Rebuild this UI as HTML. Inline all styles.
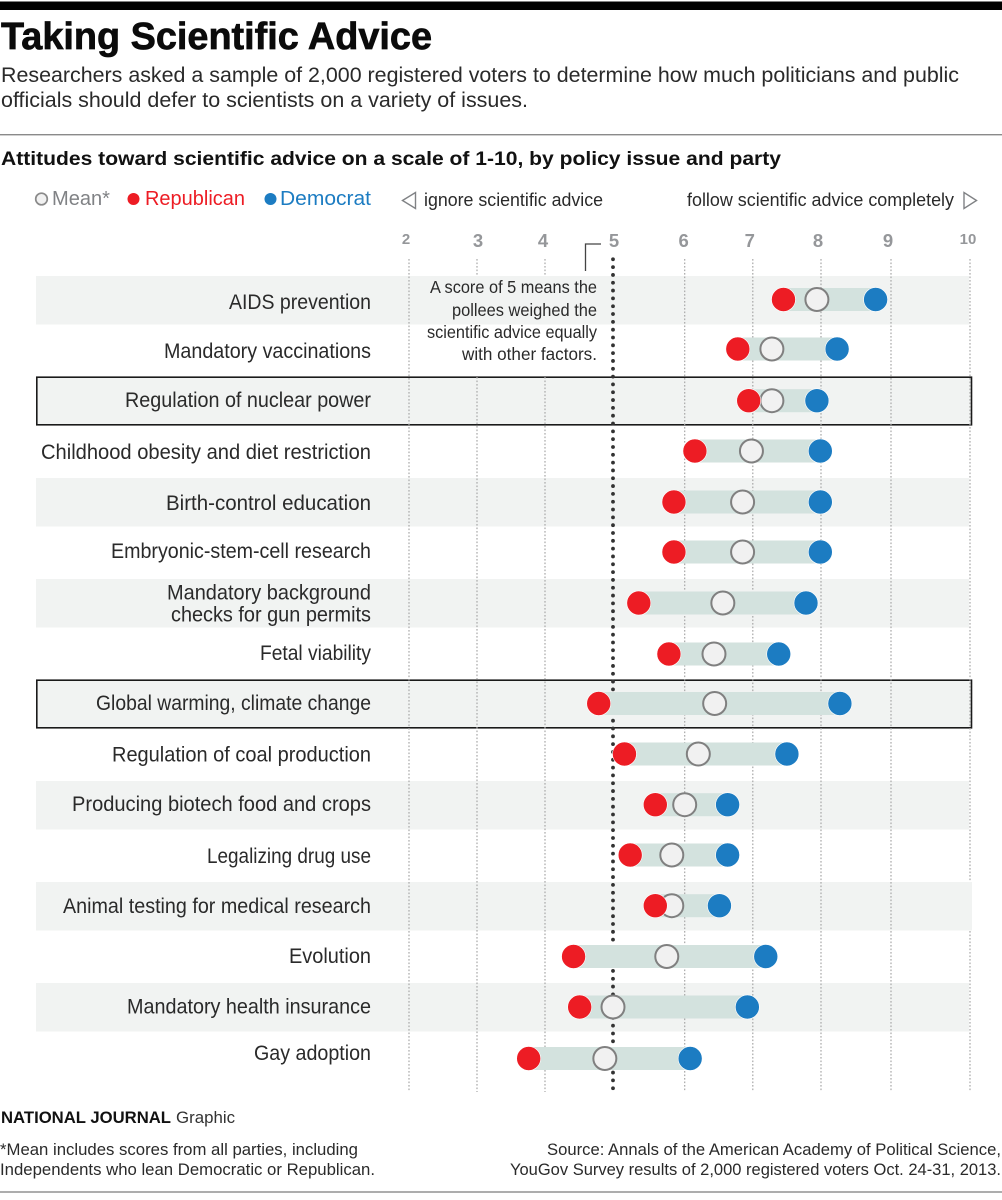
<!DOCTYPE html>
<html lang="en">
<head>
<meta charset="utf-8">
<title>Taking Scientific Advice</title>
<style>
html,body{margin:0;padding:0;background:#fff}
svg{display:block}
text{font-family:"Liberation Sans",sans-serif}
</style>
</head>
<body>
<svg id="chart" xmlns="http://www.w3.org/2000/svg" width="1002" height="1200" viewBox="0 0 1002 1200">
  <rect x="0" y="0" width="1002" height="1200" fill="#fff"/>
  <rect x="0" y="1.5" width="1002" height="8.5" fill="#000"/>
  <text x="1" y="49" font-size="38" font-weight="700" fill="#0b0b0b" stroke="#0b0b0b" stroke-width="0.7" textLength="431" lengthAdjust="spacingAndGlyphs">Taking Scientific Advice</text>
  <text x="1" y="82" font-size="21" fill="#2a2a2a" textLength="958" lengthAdjust="spacingAndGlyphs">Researchers asked a sample of 2,000 registered voters to determine how much politicians and public</text>
  <text x="1" y="107" font-size="21" fill="#2a2a2a" textLength="527" lengthAdjust="spacingAndGlyphs">officials should defer to scientists on a variety of issues.</text>
  <rect x="0" y="134" width="1002" height="1.4" fill="#8a8a8a"/>
  <text x="1" y="165" font-size="19.5" font-weight="700" fill="#111" textLength="780" lengthAdjust="spacingAndGlyphs">Attitudes toward scientific advice on a scale of 1-10, by policy issue and party</text>

  <g>
    <circle cx="41.5" cy="199" r="5.8" fill="#f1f1f1" stroke="#8a8a8a" stroke-width="1.7"/>
    <text x="52" y="205" font-size="20.5" fill="#808285" textLength="58" lengthAdjust="spacingAndGlyphs">Mean*</text>
    <circle cx="133.5" cy="199" r="6" fill="#ed1c24"/>
    <text x="145" y="205" font-size="20.5" fill="#ed1c24" textLength="100" lengthAdjust="spacingAndGlyphs">Republican</text>
    <circle cx="270.5" cy="199" r="6" fill="#1c7cc2"/>
    <text x="280" y="205" font-size="20.5" fill="#1c7cc2" textLength="91" lengthAdjust="spacingAndGlyphs">Democrat</text>
  </g>

  <g>
    <polygon points="402.5,200.5 415.5,192.5 415.5,208.5" fill="#fff" stroke="#808285" stroke-width="1.4"/>
    <text x="424" y="206" font-size="18.5" fill="#2a2a2a" textLength="179" lengthAdjust="spacingAndGlyphs">ignore scientific advice</text>
    <text x="687" y="206" font-size="18.5" fill="#2a2a2a" textLength="267" lengthAdjust="spacingAndGlyphs">follow scientific advice completely</text>
    <polygon points="976.5,200.5 964,192.5 964,208.5" fill="#fff" stroke="#808285" stroke-width="1.4"/>
  </g>

  <g id="bands"></g>
  <g id="grid"></g>
  <g id="ticks"></g>
  <g id="labels"></g>
  <g id="marks"></g>

  <g>
    <polyline points="601,244 585.5,244 585.5,271" fill="none" stroke="#444" stroke-width="1.3"/>
    <text x="430" y="293" font-size="17.5" fill="#2a2a2a" textLength="167" lengthAdjust="spacingAndGlyphs">A score of 5 means the</text>
    <text x="452" y="316" font-size="17.5" fill="#2a2a2a" textLength="145" lengthAdjust="spacingAndGlyphs">pollees weighed the</text>
    <text x="427" y="338" font-size="17.5" fill="#2a2a2a" textLength="170" lengthAdjust="spacingAndGlyphs">scientific advice equally</text>
    <text x="462" y="360" font-size="17.5" fill="#2a2a2a" textLength="135" lengthAdjust="spacingAndGlyphs">with other factors.</text>
  </g>

  <g>
    <text x="1" y="1123" font-size="16.5" font-weight="700" fill="#111" textLength="170" lengthAdjust="spacingAndGlyphs">NATIONAL JOURNAL</text>
    <text x="176" y="1123" font-size="16.5" fill="#333" textLength="59" lengthAdjust="spacingAndGlyphs">Graphic</text>
    <text x="0" y="1155" font-size="16.5" fill="#2a2a2a" textLength="358" lengthAdjust="spacingAndGlyphs">*Mean includes scores from all parties, including</text>
    <text x="0" y="1175" font-size="16.5" fill="#2a2a2a" textLength="375" lengthAdjust="spacingAndGlyphs">Independents who lean Democratic or Republican.</text>
    <text x="547" y="1155" font-size="16.5" fill="#2a2a2a" textLength="454" lengthAdjust="spacingAndGlyphs">Source: Annals of the American Academy of Political Science,</text>
    <text x="510" y="1175" font-size="16.5" fill="#2a2a2a" textLength="491" lengthAdjust="spacingAndGlyphs">YouGov Survey results of 2,000 registered voters Oct. 24-31, 2013.</text>
    <rect x="0" y="1191.3" width="1002" height="1.4" fill="#8a8a8a"/>
  </g>
</svg>

<script>
const categories = [
  "AIDS prevention",
  "Mandatory vaccinations",
  "Regulation of nuclear power",
  "Childhood obesity and diet restriction",
  "Birth-control education",
  "Embryonic-stem-cell research",
  "Mandatory background|checks for gun permits",
  "Fetal viability",
  "Global warming, climate change",
  "Regulation of coal production",
  "Producing biotech food and crops",
  "Legalizing drug use",
  "Animal testing for medical research",
  "Evolution",
  "Mandatory health insurance",
  "Gay adoption"
];
const republicanScores = [7.45, 6.78, 6.94, 6.15, 5.85, 5.85, 5.36, 5.78, 4.79, 5.16, 5.59, 5.24, 5.59, 4.42, 4.51, 3.76];
const meanScores = [7.94, 7.28, 7.28, 6.98, 6.85, 6.85, 6.56, 6.43, 6.44, 6.2, 6.0, 5.82, 5.82, 5.75, 5.0, 4.88];
const democratScores = [8.78, 8.23, 7.94, 7.99, 7.99, 7.99, 7.78, 7.38, 8.27, 7.5, 6.63, 6.63, 6.51, 7.19, 6.92, 6.08];
const tickLabels = [2, 3, 4, 5, 6, 7, 8, 9, 10];

const SVG_NS = "http://www.w3.org/2000/svg";

/* The printed axis is hand-spaced, so the scale is piecewise linear between its tick stops. */
function xScale(value) {
  const stops = [[2, 409], [3, 477], [4, 545], [5, 613], [6, 684.7], [7, 752.8], [8, 821], [9, 891], [10, 970]];
  if (value <= stops[0][0]) return stops[0][1] + (value - stops[0][0]) * 68;
  for (let i = 1; i < stops.length; i++) {
    if (value <= stops[i][0]) {
      const a = stops[i - 1], b = stops[i];
      return a[1] + (value - a[0]) * (b[1] - a[1]) / (b[0] - a[0]);
    }
  }
  return stops[stops.length - 1][1] + (value - 10) * 79;
}
function yScale(rowIndex) {
  const centers = [299.5, 349, 400.7, 451, 502, 552, 603, 654, 703.5, 754, 804.7, 855, 905.7, 956.5, 1007, 1058.5];
  return centers[rowIndex];
}
function make(tag, parent, attrs) {
  const node = document.createElementNS(SVG_NS, tag);
  Object.keys(attrs).forEach(function (k) { node.setAttribute(k, attrs[k]); });
  parent.appendChild(node);
  return node;
}
function slug(text) {
  return text.toLowerCase().replace(/[^a-z0-9]+/g, "-").replace(/^-|-$/g, "");
}

function drawBands() {
  const group = document.getElementById("bands");
  const shaded = [0, 4, 6, 10, 12, 14];
  const boxed = [2, 8];
  const tops = { 0: 276, 2: 377, 4: 478, 6: 579, 8: 680, 10: 781, 12: 882, 14: 983 };
  shaded.forEach(function (row) {
    const band = make("rect", group, { x: 36, y: tops[row], width: row === 12 ? 936 : 933, height: 48.5, fill: "#f1f3f2" });
    
    
  });
  boxed.forEach(function (row) {
    const box = make("rect", group, { x: 36.8, y: tops[row] + 0.2, width: 934.7, height: 47.6, fill: "#f1f3f2", stroke: "#1a1a1a", "stroke-width": 1.6 });
    
    
  });
}

function drawGrid() {
  const group = document.getElementById("grid");
  tickLabels.forEach(function (tick) {
    const x = xScale(tick);
    if (tick === 5) {
      const fiveLine = make("line", group, { x1: x, x2: x, y1: 259.3, y2: 1090, stroke: "#333", "stroke-width": 3.8, "stroke-linecap": "round", "stroke-dasharray": "0.01 7.81" });
      
      
      return;
    }
    const hiddenByNote = tick === 3 || tick === 4;
    const segments = hiddenByNote ? [[259, 276], [377, 1092]] : [[259, 1092]];
    segments.forEach(function (seg) {
      const line = make("line", group, { x1: x, x2: x, y1: seg[0], y2: seg[1], stroke: "#a8a8a8", "stroke-width": 1.2, "stroke-dasharray": "1.6 1.9" });
      
      
    });
  });
  const cover = make("rect", group, { x: 968.5, y: 882, width: 3.5, height: 48.5, fill: "#f1f3f2" });
  
  
}

function drawTicks() {
  const group = document.getElementById("ticks");
  const nudge = { 2: -3, 3: 1, 4: -2, 5: 1, 6: -1, 7: -3, 8: -3, 9: -3, 10: -2 };
  tickLabels.forEach(function (tick) {
    const small = tick === 2 || tick === 10;
    const label = make("text", group, {
      x: xScale(tick) + nudge[tick],
      y: small ? 244 : 247,
      "text-anchor": "middle",
      "font-size": small ? 15 : 18.5,
      "font-weight": 700,
      fill: "#95979a"
    });
    
    
    label.textContent = tick;
  });
}

function drawLabels() {
  const group = document.getElementById("labels");
  const right = 371;
  const baselines = [309, 358, 407, 459, 510, 558, [599.5, 621.5], 660, 710, 761.5, 811, 863, 913, 963, 1013.5, 1060];
  const widths = [142, 207, 246, 330, 205, 260, [204, 200], 111, 275, 259, 299, 164, 308, 82, 244, 117];
  categories.forEach(function (name, row) {
    const lines = name.split("|");
    lines.forEach(function (lineText, i) {
      const y = Array.isArray(baselines[row]) ? baselines[row][i] : baselines[row];
      const w = Array.isArray(widths[row]) ? widths[row][i] : widths[row];
      const label = make("text", group, { x: right - w, y: y, "font-size": 21, fill: "#2a2a2a", textLength: w, lengthAdjust: "spacingAndGlyphs" });
      
      
      label.textContent = lineText;
    });
  });
}

function drawMarks() {
  const group = document.getElementById("marks");
  categories.forEach(function (name, row) {
    const key = slug(name.replace("|", " "));
    const y = yScale(row);
    const xR = xScale(republicanScores[row]);
    const xM = xScale(meanScores[row]);
    const xD = xScale(democratScores[row]);

    const g = make("g", group, {});
    
    

    const bar = make("rect", g, { x: Math.min(xR, xD), y: y - 11.5, width: Math.abs(xD - xR), height: 23, fill: "#d3e2de" });
    
    

    const mean = make("circle", g, { cx: xM, cy: y, r: 11.5, fill: "#f1f1f1", stroke: "#808080", "stroke-width": 2 });
    
    

    const rep = make("circle", g, { cx: xR, cy: y, r: 12, fill: "#ed1c24", stroke: "#fff", "stroke-width": 0.6 });
    
    

    const dem = make("circle", g, { cx: xD, cy: y, r: 12, fill: "#1c7cc2", stroke: "#fff", "stroke-width": 0.6 });
    
    
  });
}

drawBands();
drawGrid();
drawTicks();
drawLabels();
drawMarks();
</script>
</body>
</html>
